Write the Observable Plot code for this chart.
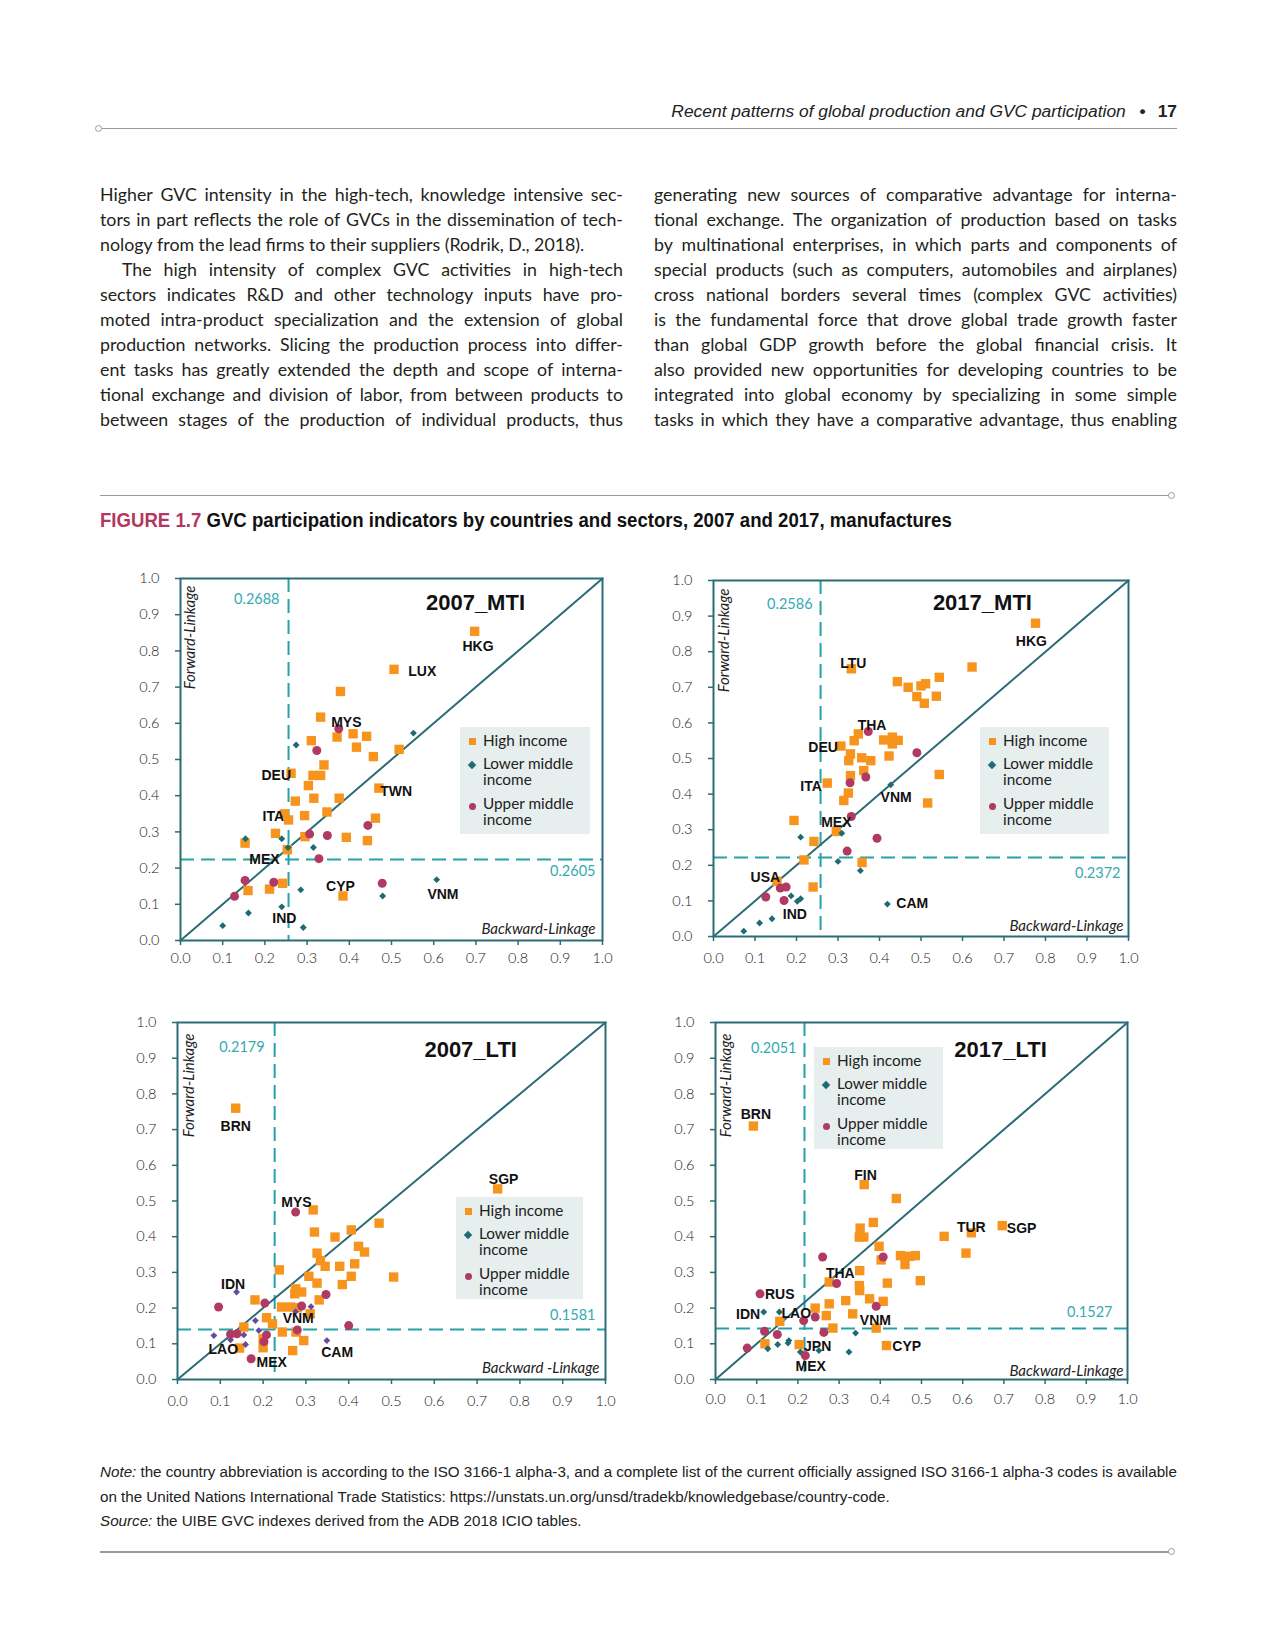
<!DOCTYPE html>
<html><head><meta charset="utf-8">
<script src="https://cdn.jsdelivr.net/npm/d3@7"></script>
<script src="https://cdn.jsdelivr.net/npm/@observablehq/plot@0.6"></script>
<style>
body{margin:0;background:#fff;}
#page{position:relative;width:1275px;height:1650px;font-family:Lato,"Open Sans",sans-serif;color:#231f20;overflow:hidden;}
.abs{position:absolute;}
.rule{position:absolute;height:0;border-top:1.5px solid #9a9a9a;}
.dot{position:absolute;width:5px;height:5px;border:1.2px solid #9a9a9a;border-radius:50%;background:#fff;}
.tline{position:absolute;display:flex;height:25px;line-height:25px;font-size:17.8px;white-space:nowrap;}
.tline.j{justify-content:space-between;}
.tline.l span{margin-right:0.25em;}
.narrow{font-family:"Liberation Sans",Arial,sans-serif;}
.legend{position:absolute;background:#e7eeee;font-size:15.3px;color:#222;}
.legend .it{position:absolute;left:23px;line-height:16px;}
.legend .mk{position:absolute;}
.panel{position:absolute;}
</style></head>
<body><div id="page"></div>
<script>
// ---------- text content ----------
const headerText = "Recent patterns of global production and GVC participation";
const pageNumber = "17";
const leftColumn = [
 ["Higher GVC intensity in the high-tech, knowledge intensive sec-", "j"],
 ["tors in part reflects the role of GVCs in the dissemination of tech-", "j"],
 ["nology from the lead firms to their suppliers (Rodrik, D., 2018).", "l"],
 ["The high intensity of complex GVC activities in high-tech", "ji"],
 ["sectors indicates R&D and other technology inputs have pro-", "j"],
 ["moted intra-product specialization and the extension of global", "j"],
 ["production networks. Slicing the production process into differ-", "j"],
 ["ent tasks has greatly extended the depth and scope of interna-", "j"],
 ["tional exchange and division of labor, from between products to", "j"],
 ["between stages of the production of individual products, thus", "j"]
];
const rightColumn = [
 ["generating new sources of comparative advantage for interna-", "j"],
 ["tional exchange. The organization of production based on tasks", "j"],
 ["by multinational enterprises, in which parts and components of", "j"],
 ["special products (such as computers, automobiles and airplanes)", "j"],
 ["cross national borders several times (complex GVC activities)", "j"],
 ["is the fundamental force that drove global trade growth faster", "j"],
 ["than global GDP growth before the global financial crisis. It", "j"],
 ["also provided new opportunities for developing countries to be", "j"],
 ["integrated into global economy by specializing in some simple", "j"],
 ["tasks in which they have a comparative advantage, thus enabling", "j"]
];
const figureLabel = "FIGURE 1.7";
const figureTitle = "GVC participation indicators by countries and sectors, 2007 and 2017, manufactures";
const noteLines = [
 ["Note:", "the country abbreviation is according to the ISO 3166-1 alpha-3, and a complete list of the current officially assigned ISO 3166-1 alpha-3 codes is available", "j"],
 ["", "on the United Nations International Trade Statistics: https://unstats.un.org/unsd/tradekb/knowledgebase/country-code.", "l"],
 ["Source:", "the UIBE GVC indexes derived from the ADB 2018 ICIO tables.", "l"]
];

// ---------- chart data ----------
const tickValues = [0,0.1,0.2,0.3,0.4,0.5,0.6,0.7,0.8,0.9,1.0];
const tickLabels = ["0.0","0.1","0.2","0.3","0.4","0.5","0.6","0.7","0.8","0.9","1.0"];
const incomeGroups = ["High income", "Lower middle\nincome", "Upper middle\nincome"];
const panelTitles = ["2007_MTI", "2017_MTI", "2007_LTI", "2017_LTI"];
const yAxisTitle = "Forward-Linkage";
const xAxisTitles = ["Backward-Linkage", "Backward-Linkage", "Backward -Linkage", "Backward-Linkage"];
const vRefPos = [0.256, 0.258, 0.227, 0.216];
const vRefLabel = ["0.2688", "0.2586", "0.2179", "0.2051"];
const hRefPos = [0.224, 0.222, 0.140, 0.143];
const hRefLabel = ["0.2605", "0.2372", "0.1581", "0.1527"];

// 2007 MTI  [backward, forward]
const mti2007High = [[0.697,0.854],[0.506,0.749],[0.379,0.688],[0.332,0.617],[0.310,0.552],[0.371,0.562],[0.409,0.571],[0.441,0.564],[0.417,0.534],[0.457,0.508],[0.518,0.528],[0.340,0.485],[0.314,0.456],[0.332,0.456],[0.262,0.462],[0.303,0.428],[0.470,0.421],[0.272,0.385],[0.316,0.393],[0.376,0.393],[0.294,0.345],[0.347,0.355],[0.462,0.338],[0.246,0.350],[0.256,0.333],[0.225,0.296],[0.153,0.269],[0.295,0.287],[0.393,0.285],[0.443,0.276],[0.253,0.251],[0.242,0.158],[0.211,0.142],[0.160,0.138],[0.385,0.123]];
const mti2007Lower = [[0.552,0.573],[0.274,0.540],[0.154,0.281],[0.240,0.281],[0.315,0.257],[0.255,0.257],[0.607,0.168],[0.479,0.123],[0.285,0.140],[0.240,0.093],[0.161,0.076],[0.100,0.041],[0.291,0.036]];
const mti2007Upper = [[0.375,0.585],[0.323,0.525],[0.444,0.318],[0.306,0.294],[0.348,0.290],[0.328,0.226],[0.153,0.166],[0.221,0.161],[0.478,0.158],[0.128,0.122]];
const mti2007Labels = [["HKG",0.705,0.812],["LUX",0.573,0.743],["MYS",0.393,0.601],["DEU",0.227,0.456],["TWN",0.511,0.412],["ITA",0.220,0.343],["MEX",0.199,0.223],["CYP",0.379,0.150],["VNM",0.622,0.127],["IND",0.246,0.062]];

// 2017 MTI
const mti2017High = [[0.776,0.880],[0.623,0.757],[0.332,0.752],[0.544,0.728],[0.443,0.716],[0.469,0.700],[0.500,0.704],[0.511,0.710],[0.490,0.674],[0.537,0.675],[0.508,0.655],[0.349,0.569],[0.339,0.550],[0.307,0.535],[0.330,0.513],[0.326,0.494],[0.357,0.502],[0.379,0.494],[0.362,0.466],[0.330,0.452],[0.410,0.552],[0.431,0.560],[0.445,0.551],[0.431,0.541],[0.423,0.507],[0.544,0.455],[0.274,0.431],[0.325,0.403],[0.314,0.382],[0.516,0.375],[0.194,0.326],[0.296,0.295],[0.242,0.267],[0.218,0.215],[0.358,0.208],[0.153,0.155],[0.240,0.139]];
const mti2017Lower = [[0.427,0.426],[0.309,0.290],[0.210,0.279],[0.300,0.211],[0.354,0.185],[0.187,0.114],[0.210,0.106],[0.202,0.099],[0.419,0.091],[0.141,0.050],[0.111,0.038],[0.073,0.015]];
const mti2017Upper = [[0.373,0.576],[0.490,0.516],[0.367,0.448],[0.329,0.432],[0.332,0.337],[0.394,0.276],[0.322,0.240],[0.175,0.139],[0.161,0.136],[0.126,0.111],[0.170,0.101]];
const mti2017Labels = [["HKG",0.766,0.830],["LTU",0.337,0.768],["THA",0.382,0.593],["DEU",0.264,0.530],["ITA",0.235,0.421],["VNM",0.440,0.391],["MEX",0.296,0.321],["USA",0.125,0.165],["IND",0.196,0.062],["CAM",0.479,0.093]];

// 2007 LTI
const lti2007High = [[0.136,0.760],[0.748,0.534],[0.317,0.475],[0.471,0.438],[0.320,0.413],[0.406,0.419],[0.368,0.399],[0.423,0.373],[0.437,0.357],[0.326,0.354],[0.334,0.333],[0.345,0.317],[0.379,0.317],[0.414,0.324],[0.238,0.307],[0.505,0.287],[0.406,0.289],[0.307,0.289],[0.326,0.270],[0.385,0.266],[0.276,0.254],[0.290,0.245],[0.274,0.240],[0.181,0.223],[0.331,0.223],[0.243,0.203],[0.264,0.203],[0.280,0.201],[0.310,0.184],[0.208,0.173],[0.222,0.156],[0.155,0.147],[0.245,0.133],[0.277,0.133],[0.295,0.109],[0.200,0.114],[0.145,0.088],[0.200,0.089],[0.269,0.081]];
const lti2007Lower = [[0.138,0.245],[0.312,0.204],[0.276,0.190],[0.182,0.165],[0.190,0.137],[0.085,0.123],[0.155,0.125],[0.159,0.098],[0.124,0.111],[0.349,0.109]];
const lti2007Upper = [[0.276,0.469],[0.096,0.203],[0.204,0.214],[0.347,0.238],[0.290,0.206],[0.400,0.151],[0.280,0.139],[0.208,0.125],[0.202,0.106],[0.124,0.127],[0.139,0.128],[0.172,0.058]];
const lti2007Labels = [["BRN",0.136,0.710],["SGP",0.762,0.560],["MYS",0.278,0.497],["IDN",0.130,0.265],["VNM",0.282,0.172],["LAO",0.107,0.083],["MEX",0.220,0.047],["CAM",0.373,0.075]];

// 2017 LTI
const lti2017High = [[0.092,0.710],[0.361,0.546],[0.439,0.507],[0.383,0.440],[0.351,0.424],[0.349,0.399],[0.360,0.399],[0.397,0.373],[0.402,0.335],[0.449,0.347],[0.460,0.322],[0.471,0.345],[0.485,0.347],[0.555,0.401],[0.621,0.411],[0.696,0.431],[0.608,0.354],[0.497,0.277],[0.417,0.270],[0.350,0.305],[0.276,0.273],[0.349,0.263],[0.350,0.249],[0.374,0.226],[0.407,0.219],[0.316,0.221],[0.276,0.212],[0.242,0.200],[0.269,0.179],[0.333,0.184],[0.156,0.163],[0.285,0.144],[0.390,0.144],[0.120,0.100],[0.203,0.098],[0.415,0.095]];
const lti2017Lower = [[0.117,0.189],[0.155,0.189],[0.214,0.170],[0.340,0.130],[0.178,0.109],[0.176,0.102],[0.151,0.098],[0.127,0.086],[0.206,0.077],[0.251,0.081],[0.324,0.077]];
const lti2017Upper = [[0.260,0.343],[0.407,0.343],[0.294,0.269],[0.108,0.240],[0.390,0.205],[0.214,0.165],[0.242,0.175],[0.119,0.135],[0.150,0.126],[0.263,0.132],[0.077,0.088],[0.218,0.067]];
const lti2017Labels = [["BRN",0.098,0.741],["FIN",0.364,0.571],["TUR",0.621,0.427],["SGP",0.743,0.424],["THA",0.303,0.296],["RUS",0.156,0.238],["IDN",0.079,0.182],["LAO",0.196,0.186],["VNM",0.388,0.165],["JPN",0.248,0.093],["CYP",0.464,0.093],["MEX",0.231,0.037]];

// ---------- styles ----------
const ORANGE = "#f7941d", TEAL = "#1e6b73", CRIMSON = "#b03a64", PURPLE = "#6a4a9e";
const FRAME = "#2a6c75", DASH = "#25a1a7", DASHTXT = "#34aab1";

const page = document.getElementById("page");
function el(tag, cls, css, html) {
  const e = document.createElement(tag);
  if (cls) e.className = cls;
  if (css) e.style.cssText = css;
  if (html !== undefined) e.innerHTML = html;
  page.appendChild(e);
  return e;
}
function esc(s){return s.replace(/&/g,"&amp;").replace(/</g,"&lt;");}

// header
el("div", "abs narrow", "right:98px;top:100px;line-height:22px;font-size:17.4px;font-style:italic;color:#222;",
   esc(headerText) + ' <span style="font-style:normal;font-weight:bold;margin:0 12px 0 9px;">&#8226;</span><span style="font-style:normal;font-weight:bold;">' + pageNumber + '</span>');
el("div", "rule", "left:102px;top:128px;width:1075px;");
el("div", "dot", "left:95px;top:124.5px;");

// body text
function column(lines, left) {
  lines.forEach((ln, i) => {
    const [txt, mode] = ln;
    const indent = mode === "ji" ? 22 : 0;
    const words = txt.split(" ");
    const cls = mode === "l" ? "tline l" : "tline j";
    el("div", cls, `left:${left + indent}px;top:${181.5 + i * 25}px;width:${523 - indent}px;`,
      words.map(w => `<span>${esc(w)}</span>`).join(""));
  });
}
column(leftColumn, 100);
column(rightColumn, 654);

// figure header
el("div", "rule", "left:100px;top:495px;width:1070px;");
el("div", "dot", "left:1168px;top:491.5px;");
el("div", "abs narrow", "left:100px;top:507px;line-height:26px;font-size:20px;font-weight:bold;color:#111;white-space:nowrap;transform:scaleX(0.93);transform-origin:left center;",
   `<span style="color:#b5365f">${figureLabel}</span> ${esc(figureTitle)}`);

// notes
noteLines.forEach((n, i) => {
  const words = n[1].split(" ");
  const parts = (n[0] ? [`<i>${n[0]}</i>`] : []).concat(words.map(esc));
  const justify = n[2] === "j";
  el("div", "abs narrow", `left:100px;top:${1460 + i * 24.5}px;width:1077px;line-height:24px;font-size:15.2px;color:#222;white-space:nowrap;display:flex;` + (justify ? "justify-content:space-between;" : "column-gap:0.27em;"),
     parts.map(p => `<span>${p}</span>`).join(""));
});
el("div", "rule", "left:100px;top:1551px;width:1070px;border-top-width:2px;");
el("div", "dot", "left:1168px;top:1547.5px;");

// ---------- panels ----------
const panels = [
  {high: mti2007High, lower: mti2007Lower, upper: mti2007Upper, labels: mti2007Labels, lowerColor: TEAL,
   left: 180, top: 578, w: 422, h: 362, xPad: 7, titleAt: [0.699, 0.932],
   legend: [460, 727, 130, 107], fwd: [10, 7], back: [-7, -7], vl: [-9, 15], hl: [-7, 12]},
  {high: mti2017High, lower: mti2017Lower, upper: mti2017Upper, labels: mti2017Labels, lowerColor: TEAL,
   left: 713, top: 580, w: 415, h: 356, xPad: 11, titleAt: [0.648, 0.938],
   legend: [980, 727, 129, 107], fwd: [11, 8], back: [-5, -6], vl: [-8, 18], hl: [-8, 16]},
  {high: lti2007High, lower: lti2007Lower, upper: lti2007Upper, labels: lti2007Labels, lowerColor: PURPLE,
   left: 177, top: 1022, w: 428, h: 357, xPad: 11, titleAt: [0.685, 0.922],
   legend: [456, 1197, 127, 102], fwd: [12, 11], back: [-6, -7], vl: [-10, 19], hl: [-10, -14]},
  {high: lti2017High, lower: lti2017Lower, upper: lti2017Upper, labels: lti2017Labels, lowerColor: TEAL,
   left: 715, top: 1022, w: 412, h: 357, xPad: 9, titleAt: [0.692, 0.922],
   legend: [814, 1047, 129, 102], fwd: [11, 11], back: [-4, -4], vl: [-8, 20], hl: [-15, -16]}
];

const ML = 60, MR = 20, MT = 30, MB = 40;
panels.forEach((p, i) => {
  const chart = Plot.plot({
    width: p.w + ML + MR, height: p.h + MT + MB,
    marginLeft: ML, marginRight: MR, marginTop: MT, marginBottom: MB,
    style: {background: "transparent", overflow: "visible", fontFamily: "Lato, 'Open Sans', sans-serif"},
    x: {domain: [0, 1], label: null},
    y: {domain: [0, 1], label: null},
    marks: [
      Plot.ruleX([vRefPos[i]], {stroke: DASH, strokeWidth: 2, strokeDasharray: "14,7"}),
      Plot.ruleY([hRefPos[i]], {stroke: DASH, strokeWidth: 2, strokeDasharray: "14,7"}),
      Plot.line(tickValues, {x: d => d, y: d => d, stroke: FRAME, strokeWidth: 2}),
      Plot.frame({stroke: FRAME, strokeWidth: 2}),
      Plot.axisX(tickValues, {tickFormat: (d, k) => tickLabels[k], tickSize: 5, tickPadding: p.xPad,
        stroke: FRAME, strokeWidth: 1.5, fill: "#222", fontSize: 14.5, fontWeight: 300, label: null}),
      Plot.axisY(tickValues, {tickFormat: (d, k) => tickLabels[k], tickSize: 5, tickPadding: 16,
        stroke: FRAME, strokeWidth: 1.5, fill: "#222", fontSize: 14.5, fontWeight: 300, label: null}),
      Plot.text([{v: vRefPos[i], t: vRefLabel[i]}], {x: "v", frameAnchor: "top", text: "t",
        textAnchor: "end", dx: p.vl[0], dy: p.vl[1], fill: DASHTXT, fontSize: 14.5}),
      Plot.text([{v: hRefPos[i], t: hRefLabel[i]}], {y: "v", frameAnchor: "right", text: "t",
        textAnchor: "end", dx: p.hl[0], dy: p.hl[1], fill: DASHTXT, fontSize: 14.5}),
      Plot.text([yAxisTitle], {frameAnchor: "top-left", rotate: -90, textAnchor: "end", lineAnchor: "middle",
        dx: p.fwd[0], dy: p.fwd[1], fontStyle: "italic", fontSize: 15, fill: "#222"}),
      Plot.text([xAxisTitles[i]], {frameAnchor: "bottom-right", textAnchor: "end", lineAnchor: "bottom",
        dx: p.back[0], dy: p.back[1], fontStyle: "italic", fontSize: 15, fill: "#222"}),
      Plot.text([panelTitles[i]], {x: () => p.titleAt[0], y: () => p.titleAt[1], fontSize: 22, fontWeight: "bold",
        fontFamily: "'Liberation Sans', Arial, sans-serif", fill: "#111"}),
      Plot.dot(p.high, {x: d => d[0], y: d => d[1], symbol: "square", r: 5.3, fill: ORANGE}),
      Plot.dot(p.lower, {x: d => d[0], y: d => d[1], symbol: "diamond2", r: 3.1, fill: p.lowerColor}),
      Plot.dot(p.upper, {x: d => d[0], y: d => d[1], symbol: "circle", r: 4.5, fill: CRIMSON}),
      Plot.text(p.labels, {x: d => d[1], y: d => d[2], text: d => d[0], fontSize: 14, fontWeight: "bold",
        fontFamily: "'Liberation Sans', Arial, sans-serif", fill: "#111"})
    ]
  });
  const wrap = el("div", "panel", `left:${p.left - ML}px;top:${p.top - MT}px;`);
  wrap.appendChild(chart);

  // legend
  const [lx, ly, lw, lh] = p.legend;
  const lg = el("div", "legend", `left:${lx}px;top:${ly}px;width:${lw}px;height:${lh}px;`);
  const tops = [5, 28, 68];
  const markers = [
    `width:7px;height:7px;background:${ORANGE};`,
    `width:6px;height:6px;background:${TEAL};transform:rotate(45deg);`,
    `width:7.5px;height:7.5px;border-radius:50%;background:${CRIMSON};`
  ];
  incomeGroups.forEach((g, k) => {
    const it = document.createElement("div");
    it.className = "it"; it.style.top = tops[k] + "px";
    it.innerHTML = g.split("\n").join("<br>");
    lg.appendChild(it);
    const mk = document.createElement("div");
    mk.className = "mk";
    mk.style.cssText = markers[k] + `left:${k === 1 ? 9 : 8.5}px;top:${tops[k] + (k === 1 ? 7 : 5.5) + (k === 2 ? 2 : 0)}px;`;
    lg.appendChild(mk);
  });
});
</script></body></html>
